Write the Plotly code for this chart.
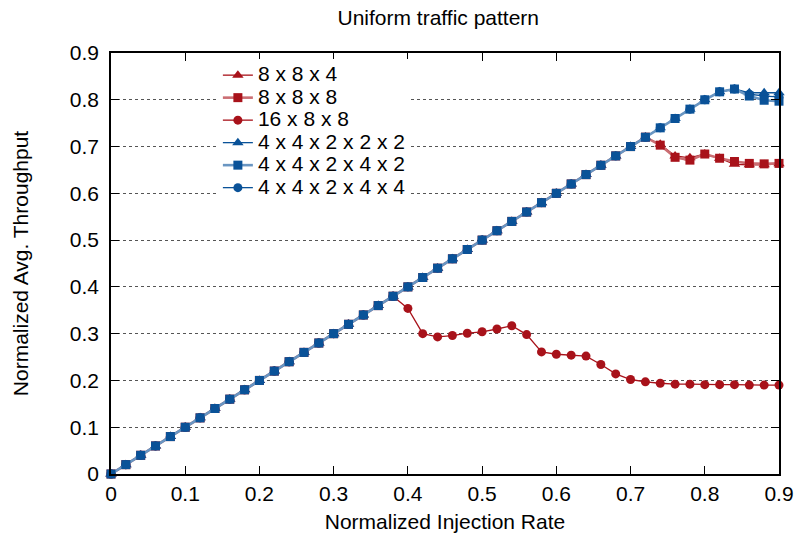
import plotly.graph_objects as go

x = [0.00, 0.02, 0.04, 0.06, 0.08, 0.10, 0.12, 0.14, 0.16, 0.18,
     0.20, 0.22, 0.24, 0.26, 0.28, 0.30, 0.32, 0.34, 0.36, 0.38,
     0.40, 0.42, 0.44, 0.46, 0.48, 0.50, 0.52, 0.54, 0.56, 0.58,
     0.60, 0.62, 0.64, 0.66, 0.68, 0.70, 0.72, 0.74, 0.76, 0.78,
     0.80, 0.82, 0.84, 0.86, 0.88, 0.90]

y_8x8x4 = [0.00, 0.02, 0.04, 0.06, 0.08, 0.10, 0.12, 0.14, 0.16, 0.18,
           0.20, 0.22, 0.24, 0.26, 0.28, 0.30, 0.32, 0.34, 0.36, 0.38,
           0.40, 0.42, 0.44, 0.46, 0.48, 0.50, 0.52, 0.54, 0.56, 0.58,
           0.60, 0.62, 0.64, 0.66, 0.68, 0.70, 0.72, 0.705, 0.680, 0.676,
           0.684, 0.675, 0.662, 0.661, 0.661, 0.663]

y_8x8x8 = [0.00, 0.02, 0.04, 0.06, 0.08, 0.10, 0.12, 0.14, 0.16, 0.18,
           0.20, 0.22, 0.24, 0.26, 0.28, 0.30, 0.32, 0.34, 0.36, 0.38,
           0.40, 0.42, 0.44, 0.46, 0.48, 0.50, 0.52, 0.54, 0.56, 0.58,
           0.60, 0.62, 0.64, 0.66, 0.68, 0.70, 0.72, 0.703, 0.677, 0.671,
           0.684, 0.675, 0.668, 0.664, 0.663, 0.664]

y_16x8x8 = [0.00, 0.02, 0.04, 0.06, 0.08, 0.10, 0.12, 0.14, 0.16, 0.18,
            0.20, 0.22, 0.24, 0.26, 0.28, 0.30, 0.32, 0.34, 0.36, 0.38,
            0.354, 0.300, 0.293, 0.296, 0.301, 0.304, 0.310, 0.317, 0.298, 0.261,
            0.256, 0.254, 0.252, 0.234, 0.214, 0.202, 0.197, 0.194, 0.192, 0.192,
            0.191, 0.191, 0.191, 0.190, 0.190, 0.190]

y_44222 = [0.00, 0.02, 0.04, 0.06, 0.08, 0.10, 0.12, 0.14, 0.16, 0.18,
           0.20, 0.22, 0.24, 0.26, 0.28, 0.30, 0.32, 0.34, 0.36, 0.38,
           0.40, 0.42, 0.44, 0.46, 0.48, 0.50, 0.52, 0.54, 0.56, 0.58,
           0.60, 0.62, 0.64, 0.66, 0.68, 0.70, 0.72, 0.74, 0.76, 0.78,
           0.80, 0.817, 0.823, 0.815, 0.815, 0.815]

y_44242 = [0.00, 0.02, 0.04, 0.06, 0.08, 0.10, 0.12, 0.14, 0.16, 0.18,
           0.20, 0.22, 0.24, 0.26, 0.28, 0.30, 0.32, 0.34, 0.36, 0.38,
           0.40, 0.42, 0.44, 0.46, 0.48, 0.50, 0.52, 0.54, 0.56, 0.58,
           0.60, 0.62, 0.64, 0.66, 0.68, 0.70, 0.72, 0.74, 0.76, 0.78,
           0.80, 0.817, 0.823, 0.808, 0.799, 0.797]

y_44244 = [0.00, 0.02, 0.04, 0.06, 0.08, 0.10, 0.12, 0.14, 0.16, 0.18,
           0.20, 0.22, 0.24, 0.26, 0.28, 0.30, 0.32, 0.34, 0.36, 0.38,
           0.40, 0.42, 0.44, 0.46, 0.48, 0.50, 0.52, 0.54, 0.56, 0.58,
           0.60, 0.62, 0.64, 0.66, 0.68, 0.70, 0.72, 0.74, 0.76, 0.78,
           0.80, 0.817, 0.823, 0.812, 0.808, 0.806]

names = ["8 x 8 x 4", "8 x 8 x 8", "16 x 8 x 8",
         "4 x 4 x 2 x 2 x 2", "4 x 4 x 2 x 4 x 2", "4 x 4 x 2 x 4 x 4"]

RED = "#A8121A"
RED_LIGHT = "#CB6E73"
BLUE = "#0A5298"
BLUE_LIGHT = "#6A96C2"

# (data, name index, marker symbol, size, line colour, line width, marker colour)
series = [
    (y_8x8x4, 0, "triangle-up", 10, RED, 1.3, RED),
    (y_8x8x8, 1, "square", 9, RED_LIGHT, 2.6, RED),
    (y_16x8x8, 2, "circle", 9, RED, 1.3, RED),
    (y_44222, 3, "triangle-up", 10, BLUE, 1.3, BLUE),
    (y_44244, 5, "circle", 9, BLUE, 1.3, BLUE),
    (y_44242, 4, "square", 9, BLUE_LIGHT, 2.6, BLUE),
]

FONT = "Liberation Sans"
FS = 21

fig = go.Figure()
for ys, ni, sym, sz, lc, lw, mc in series:
    fig.add_trace(go.Scatter(
        x=x, y=ys,
        name="<span style='font-size:%dpx'>%s</span>" % (FS, names[ni]),
        mode="lines+markers",
        line=dict(color=lc, width=lw),
        marker=dict(symbol=sym, size=sz, color=mc, line=dict(width=0)),
        legendrank=ni + 1, cliponaxis=False,
    ))

axis_common = dict(
    range=[0, 0.9], dtick=0.1, tick0=0, automargin=False,
    showline=True, linecolor="black", linewidth=1.5, mirror="ticks",
    ticks="inside", ticklen=8, tickwidth=1, tickcolor="black",
    zeroline=False,
    tickfont=dict(family=FONT, size=FS, color="black"),
)

fig.update_layout(
    width=794, height=543,
    margin=dict(l=111, r=15, t=53, b=69),
    paper_bgcolor="white", plot_bgcolor="white",
    font=dict(family=FONT, size=FS, color="black"),
    title=dict(text="Uniform traffic pattern", x=0.552, xanchor="center",
               y=0.967, yanchor="middle", yref="container",
               font=dict(family=FONT, size=FS, color="black")),
    xaxis=dict(**axis_common, showgrid=False, ticklabelstandoff=0,
               title=dict(text="Normalized Injection Rate", standoff=10,
                          font=dict(family=FONT, size=FS))),
    yaxis=dict(**axis_common, showgrid=True, gridcolor="#555555",
               griddash="dot", gridwidth=1, ticklabelstandoff=6,
               title=dict(text="Normalized Avg. Throughput", standoff=35,
                          font=dict(family=FONT, size=FS))),
    legend=dict(x=0.16, y=0.986, xanchor="left", yanchor="top",
                bgcolor="white", borderwidth=0,
                font=dict(family=FONT, size=15, color="black"),
                traceorder="normal", tracegroupgap=0),
    showlegend=True,
)

fig.write_html(
    "out.html",
    config={"displayModeBar": False},
    post_script="document.body.style.margin='0';"
                "document.body.style.overflow='hidden';",
)
